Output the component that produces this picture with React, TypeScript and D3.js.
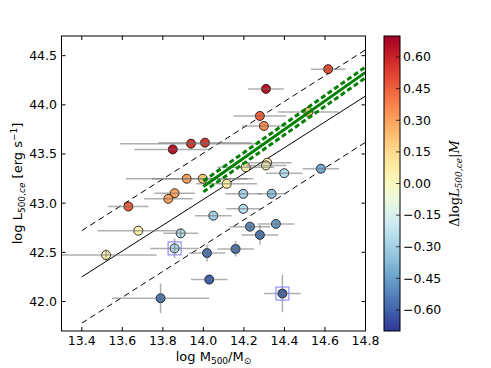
import React from "react";
import * as d3 from "d3";

// cluster measurements: log M500, log L500,ce, errors, colour (residual)
const logM = [14.616, 14.309, 14.279, 14.299, 14.518, 14.58, 14.315, 14.309, 14.209, 14.399, 13.849, 13.939, 14.008, 13.918, 13.997, 14.115, 13.858, 13.827, 13.63, 14.049, 13.679, 13.888, 13.858, 13.52, 14.018, 14.029, 13.789, 14.197, 14.337, 14.197, 14.23, 14.358, 14.279, 14.159, 14.39];
const logL = [44.363, 44.162, 43.887, 43.785, 43.928, 43.35, 43.411, 43.384, 43.366, 43.305, 43.547, 43.605, 43.615, 43.248, 43.248, 43.197, 43.101, 43.044, 42.966, 42.873, 42.72, 42.693, 42.54, 42.472, 42.493, 42.223, 42.033, 43.095, 43.095, 42.942, 42.761, 42.789, 42.677, 42.534, 42.081];
const errM = [0.086, 0.088, 0.13, 0.11, 0.15, 0.09, 0.12, 0.1, 0.14, 0.09, 0.19, 0.35, 0.23, 0.3, 0.25, 0.15, 0.1, 0.12, 0.1, 0.09, 0.2, 0.086, 0.12, 0.25, 0.09, 0.09, 0.24, 0.09, 0.07, 0.085, 0.1, 0.09, 0.09, 0.09, 0.09];
const errL = [0, 0, 0, 0, 0, 0, 0, 0, 0, 0, 0, 0, 0, 0, 0, 0, 0, 0, 0, 0, 0, 0.05, 0.1, 0.06, 0.09, 0, 0.15, 0, 0, 0, 0.05, 0.05, 0.1, 0.08, 0.19];
const deltaL = [0.5, 0.65, 0.45, 0.35, 0.2, -0.42, 0.05, 0.03, 0.05, -0.25, 0.65, 0.55, 0.55, 0.3, 0.2, 0.08, 0.3, 0.3, 0.45, -0.3, 0.05, -0.25, -0.25, 0.05, -0.55, -0.6, -0.55, -0.3, -0.35, -0.25, -0.5, -0.45, -0.55, -0.55, -0.6];
const boxed = [22, 34];

// reference relation (black) and fitted relation (green)
const refLine = { x0: 13.4, x1: 14.8, y0: 42.25, slope: 1.314, scatter: 0.47 };
const fitLine = { x0: 14.0, x1: 14.8, y0: 43.17, slope: 1.45, err: 0.055 };

const xTicks = [13.4, 13.6, 13.8, 14.0, 14.2, 14.4, 14.6, 14.8];
const yTicks = [42.0, 42.5, 43.0, 43.5, 44.0, 44.5];
const cbTicks = [0.6, 0.45, 0.3, 0.15, 0.0, -0.15, -0.3, -0.45, -0.6];

const W = 491;
const H = 368;
const m = { left: 61.5, right: 365.5, top: 36, bottom: 331 };
const cb = { x: 384, w: 16 };
const font = "DejaVu Sans, sans-serif";

const App = () => {
  const x = d3.scaleLinear().domain([13.3, 14.8]).range([m.left, m.right]);
  const y = d3.scaleLinear().domain([41.7, 44.7]).range([m.bottom, m.top]);
  const c = d3.scaleLinear().domain([-0.7, 0.7]).range([m.bottom, m.top]);
  const color = (v: number) => d3.interpolateRdYlBu(1 - (v + 0.7) / 1.4);

  const lineGen = d3
    .line<[number, number]>()
    .x((d) => x(d[0]))
    .y((d) => y(d[1]));
  const relation = (l: { x0: number; x1: number; y0: number; slope: number }, off: number) =>
    lineGen([
      [l.x0, l.y0 + off],
      [l.x1, l.y0 + off + l.slope * (l.x1 - l.x0)],
    ]) as string;

  const stops = d3.range(0, 1.0001, 0.05);
  const fmt = (v: number) => (v < 0 ? "\u2212" : "") + Math.abs(v).toFixed(2);

  return (
    <svg
      width={W}
      height={H}
      style={{ position: "absolute", left: 0, top: 0, background: "white" }}
      fontFamily={font}
    >
      <defs>
        <clipPath id="plotclip">
          <rect x={m.left} y={m.top} width={m.right - m.left} height={m.bottom - m.top} />
        </clipPath>
        <linearGradient id="cbgrad" x1="0" y1="1" x2="0" y2="0">
          {stops.map((t) => (
            <stop key={t} offset={t} stopColor={color(-0.7 + 1.4 * t)} />
          ))}
        </linearGradient>
      </defs>

      <g clipPath="url(#plotclip)">
        {/* black relation with scatter */}
        <path d={relation(refLine, 0)} stroke="black" strokeWidth={1} fill="none" />
        <path d={relation(refLine, refLine.scatter)} stroke="black" strokeWidth={1} fill="none" strokeDasharray="6,4" />
        <path d={relation(refLine, -refLine.scatter)} stroke="black" strokeWidth={1} fill="none" strokeDasharray="6,4" />

        {/* points */}
        {logM.map((mv, i) => (
          <circle
            key={"p" + i}
            cx={x(mv)}
            cy={y(logL[i])}
            r={4.5}
            fill={color(deltaL[i])}
            stroke="black"
            strokeWidth={0.8}
          />
        ))}
        {/* error bars */}
        {logM.map((mv, i) => (
          <g key={"e" + i} stroke="#6e6e6e" strokeOpacity={0.55} strokeWidth={1.5}>
            <line x1={x(mv - errM[i])} x2={x(mv + errM[i])} y1={y(logL[i])} y2={y(logL[i])} />
            {errL[i] > 0 && (
              <line x1={x(mv)} x2={x(mv)} y1={y(logL[i] - errL[i])} y2={y(logL[i] + errL[i])} />
            )}
          </g>
        ))}
        {boxed.map((i) => (
          <rect
            key={"b" + i}
            x={x(logM[i]) - 6.5}
            y={y(logL[i]) - 6.5}
            width={13}
            height={13}
            fill="none"
            stroke="#7a7aff"
            strokeWidth={1}
          />
        ))}

        {/* green fit */}
        <path d={relation(fitLine, 0)} stroke="green" strokeWidth={3} fill="none" />
        <path d={relation(fitLine, fitLine.err)} stroke="green" strokeWidth={3} fill="none" strokeDasharray="5,3" />
        <path d={relation(fitLine, -fitLine.err)} stroke="green" strokeWidth={3} fill="none" strokeDasharray="5,3" />
      </g>

      {/* frame */}
      <rect x={m.left} y={m.top} width={m.right - m.left} height={m.bottom - m.top} fill="none" stroke="black" strokeWidth={1} />

      {/* x ticks */}
      {xTicks.map((t) => (
        <g key={"xt" + t}>
          <line x1={x(t)} x2={x(t)} y1={m.bottom} y2={m.bottom - 4} stroke="black" />
          <line x1={x(t)} x2={x(t)} y1={m.top} y2={m.top + 4} stroke="black" />
          <text x={x(t)} y={345} fontSize={12.5} textAnchor="middle">
            {t.toFixed(1)}
          </text>
        </g>
      ))}
      {/* y ticks */}
      {yTicks.map((t) => (
        <g key={"yt" + t}>
          <line x1={m.left} x2={m.left + 4} y1={y(t)} y2={y(t)} stroke="black" />
          <line x1={m.right} x2={m.right - 4} y1={y(t)} y2={y(t)} stroke="black" />
          <text x={57} y={y(t)} dy="0.35em" fontSize={12.5} textAnchor="end">
            {t.toFixed(1)}
          </text>
        </g>
      ))}

      {/* axis labels */}
      <text x={(m.left + m.right) / 2} y={361} fontSize={13} textAnchor="middle">
        log M
        <tspan fontSize={9} dy={3}>500</tspan>
        <tspan dy={-3}>/M</tspan>
        <tspan fontSize={9} dy={3}>{"\u2299"}</tspan>
      </text>
      <text
        transform={`translate(22,${(m.top + m.bottom) / 2}) rotate(-90)`}
        fontSize={13}
        textAnchor="middle"
      >
        log L
        <tspan fontSize={9} dy={3}>500,</tspan>
        <tspan fontSize={9} fontStyle="italic">ce</tspan>
        <tspan dy={-3}> [erg s</tspan>
        <tspan fontSize={9} dy={-5}>{"\u22121"}</tspan>
        <tspan dy={5}>]</tspan>
      </text>

      {/* colour bar */}
      <rect x={cb.x} y={m.top} width={cb.w} height={m.bottom - m.top} fill="url(#cbgrad)" stroke="black" strokeWidth={1} />
      {cbTicks.map((t) => (
        <g key={"ct" + t}>
          <line x1={cb.x + cb.w} x2={cb.x + cb.w - 4} y1={c(t)} y2={c(t)} stroke="black" strokeOpacity={0.7} />
          <text x={cb.x + cb.w + 3} y={c(t)} dy="0.35em" fontSize={12.5}>
            {fmt(t)}
          </text>
        </g>
      ))}
      <text
        transform={`translate(459,${(m.top + m.bottom) / 2}) rotate(-90)`}
        fontSize={13}
        textAnchor="middle"
        fontFamily="DejaVu Serif, serif"
      >
        {"\u0394log"}
        <tspan fontStyle="italic">L</tspan>
        <tspan fontSize={9} fontStyle="italic" dy={3}>500,ce</tspan>
        <tspan dy={-3}>|</tspan>
        <tspan fontStyle="italic">M</tspan>
      </text>
    </svg>
  );
};

export default App;
